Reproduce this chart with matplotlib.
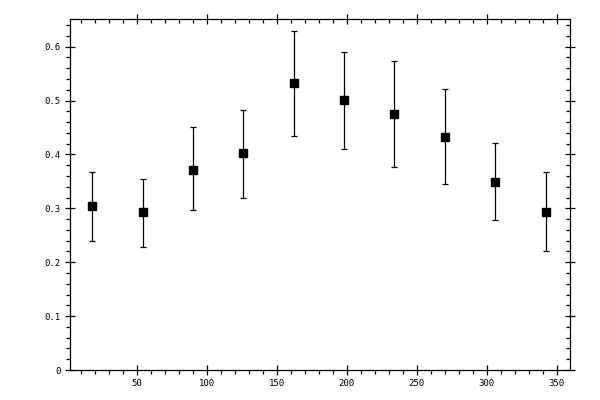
import matplotlib
matplotlib.use("Agg")
from matplotlib import pyplot as plt
from matplotlib.ticker import MultipleLocator
import numpy as np

# bin centres (degrees) and measured values with error bar ends
angle = [18, 54, 90, 126, 162, 198, 234, 270, 306, 342]
value = [0.304, 0.293, 0.372, 0.402, 0.532, 0.501, 0.475, 0.432, 0.348, 0.293]
err_hi = [0.367, 0.354, 0.451, 0.482, 0.629, 0.590, 0.573, 0.521, 0.421, 0.367]
err_lo = [0.240, 0.229, 0.296, 0.320, 0.434, 0.411, 0.377, 0.345, 0.278, 0.220]

value = np.array(value)
yerr = [value - np.array(err_lo), np.array(err_hi) - value]

plt.rcParams["font.family"] = "DejaVu Sans Mono"
plt.rcParams["font.size"] = 6.5

fig = plt.figure(figsize=(6, 4), dpi=100)
ax = fig.add_axes([0.116, 0.075, 0.834, 0.877])

ax.errorbar(angle, value, yerr=yerr, fmt="s", color="black", ms=5.8,
            elinewidth=0.9, capsize=2.5, capthick=0.9)

xlim = (1.8, 359.5)
ylim = (0, 0.651)
ax.set_xlim(*xlim)
ax.set_ylim(*ylim)

# bottom / left: labels, ticks outward
ax.xaxis.set_major_locator(MultipleLocator(50))
ax.xaxis.set_minor_locator(MultipleLocator(10))
ax.yaxis.set_minor_locator(MultipleLocator(0.02))
ax.set_yticks(np.arange(0, 0.61, 0.1))
ax.set_yticklabels(["0", "0.1", "0.2", "0.3", "0.4", "0.5", "0.6"])
ax.set_xticks([50, 100, 150, 200, 250, 300, 350])
ax.tick_params(which="major", direction="inout", length=7, width=0.9, pad=3)
ax.tick_params(which="minor", direction="out", length=3, width=0.9)
for s in ax.spines.values():
    s.set_linewidth(0.9)

# top: same ticks pointing in, no labels
top = ax.twiny()
top.set_xlim(*xlim)
top.xaxis.set_major_locator(MultipleLocator(50))
top.xaxis.set_minor_locator(MultipleLocator(10))
top.tick_params(which="major", direction="inout", length=7, width=0.9, labeltop=False)
top.tick_params(which="minor", direction="in", length=3, width=0.9)

# right
right = ax.twinx()
right.set_ylim(*ylim)
right.yaxis.set_major_locator(MultipleLocator(0.1))
right.yaxis.set_minor_locator(MultipleLocator(0.02))
right.tick_params(which="major", direction="inout", length=7, width=0.9, labelright=False)
right.tick_params(which="minor", direction="in", length=3, width=0.9)

for a in (top, right):
    for s in a.spines.values():
        s.set_visible(False)

fig.savefig("out.png", dpi=100)
